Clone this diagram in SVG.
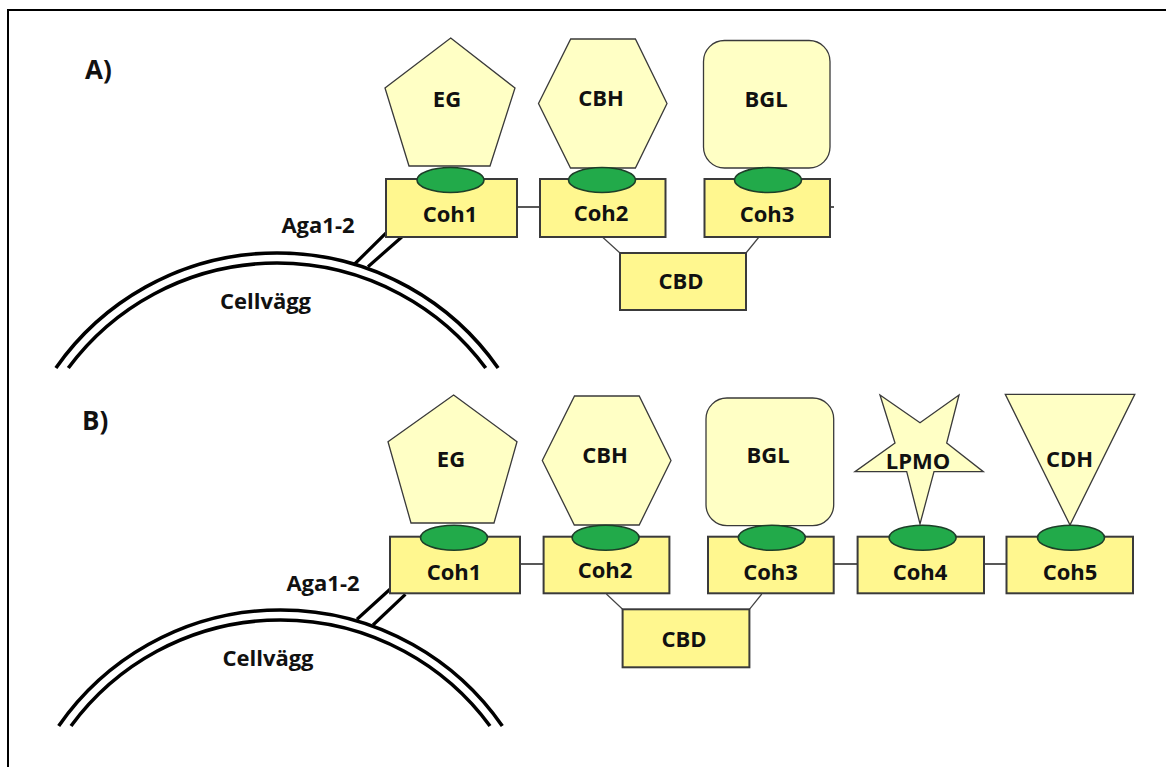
<svg xmlns="http://www.w3.org/2000/svg" width="1166" height="767" viewBox="0 0 1166 767">
  <style>
    .frame { stroke: #000; stroke-width: 2; fill: none; }
    .enz { fill: #FFFFC5; stroke: #3a3a3a; stroke-width: 1.3; stroke-linejoin: miter; }
    .coh { fill: #FFF78F; stroke: #3a3a3a; stroke-width: 2; }
    .dock { fill: #22AA4A; stroke: #1d3f28; stroke-width: 1.6; }
    .link { stroke: #222; stroke-width: 1.4; fill: none; }
    .cbdlink { stroke: #444; stroke-width: 1.2; fill: none; }
    .wall { stroke: #000; stroke-width: 3.6; fill: none; }
    .anchor { stroke: #000; stroke-width: 3.2; fill: none; }
    text { font-family: "Open Sans", "Liberation Sans", sans-serif; font-weight: 700; fill: #111; }
    .lbl { font-size: 22px; text-anchor: middle; }
    .head { font-size: 26px; }
  </style>

  <!-- outer frame: top and left edges only -->
  <path class="frame" d="M8 767 V10 H1166"/>

  <!-- ===================== Panel A ===================== -->
  <g id="panelA">
    <text class="head" x="85" y="79">A)</text>

    <g id="A-connectors">
      <path class="anchor" d="M386.4 232.7 L353.6 265 M401.8 237 L368 266.7"/>
      <path class="link" d="M517 207 H540 M830 207 H834"/>
      <path class="cbdlink" d="M602.4 237 L620 253 M759 237 L746 253"/>
    </g>

    <g id="A-cellwall">
      <path class="wall" d="M55.9 368 A270 270 0 0 1 498.1 368"/>
      <path class="wall" d="M68.3 368 A260 260 0 0 1 485.7 368"/>
      <text class="lbl" x="265.5" y="309">Cellvägg</text>
    </g>

    <g id="A-aga">
      <text class="lbl" x="318" y="233">Aga1-2</text>
    </g>

    <g id="A-EG">
      <polygon class="enz" points="450.7,38 515,88 490,166 409,166 385,88"/>
      <text class="lbl" x="447" y="107">EG</text>
    </g>
    <g id="A-Coh1">
      <rect class="coh" x="386" y="179" width="131" height="58"/>
      <ellipse class="dock" cx="450.5" cy="180" rx="33.5" ry="12.5"/>
      <text class="lbl" x="450" y="222">Coh1</text>
    </g>

    <g id="A-CBH">
      <polygon class="enz" points="570.7,39 635.4,39 667,103.5 635.4,168 570.5,168 538.5,103.5"/>
      <text class="lbl" x="601" y="106">CBH</text>
    </g>
    <g id="A-Coh2">
      <rect class="coh" x="540" y="179" width="125.5" height="58"/>
      <ellipse class="dock" cx="602" cy="180" rx="33.5" ry="12.5"/>
      <text class="lbl" x="601" y="221">Coh2</text>
    </g>

    <g id="A-BGL">
      <rect class="enz" x="703.5" y="40.5" width="126.5" height="127.5" rx="21" ry="21"/>
      <text class="lbl" x="766" y="107">BGL</text>
    </g>
    <g id="A-Coh3">
      <rect class="coh" x="704.5" y="179" width="125.5" height="58"/>
      <ellipse class="dock" cx="768" cy="180" rx="33.5" ry="12.5"/>
      <text class="lbl" x="767" y="222">Coh3</text>
    </g>

    <g id="A-CBD">
      <rect class="coh" x="620" y="253" width="126" height="57"/>
      <text class="lbl" x="681" y="289">CBD</text>
    </g>
  </g>

  <!-- ===================== Panel B ===================== -->
  <g id="panelB">
    <text class="head" x="82" y="430">B)</text>

    <g id="B-connectors">
      <path class="anchor" d="M390 589.3 L357 619.3 M405.4 594.3 L373 625"/>
      <path class="link" d="M520 564 H543.6 M833.7 564 H857.6 M984 564 H1006.5"/>
      <path class="cbdlink" d="M606.4 594 L622.6 609.3 M761.8 594 L749.4 609.3"/>
    </g>

    <g id="B-cellwall">
      <path class="wall" d="M58.7 726 A270 270 0 0 1 502.3 726"/>
      <path class="wall" d="M71 726 A260 260 0 0 1 490 726"/>
      <text class="lbl" x="268" y="666">Cellvägg</text>
    </g>

    <g id="B-aga">
      <text class="lbl" x="323" y="591">Aga1-2</text>
    </g>

    <g id="B-EG">
      <polygon class="enz" points="453.6,395 517,441.7 494,523 411,523 388,441.7"/>
      <text class="lbl" x="451" y="467">EG</text>
    </g>
    <g id="B-Coh1">
      <rect class="coh" x="390" y="536.7" width="130" height="56.6"/>
      <ellipse class="dock" cx="454" cy="537.7" rx="33.5" ry="12.5"/>
      <text class="lbl" x="454" y="580">Coh1</text>
    </g>

    <g id="B-CBH">
      <polygon class="enz" points="574.5,396 639.2,396 671,460.5 639.2,525 574.3,525 542.3,460.5"/>
      <text class="lbl" x="605" y="463">CBH</text>
    </g>
    <g id="B-Coh2">
      <rect class="coh" x="543.6" y="536.7" width="125.8" height="56.6"/>
      <ellipse class="dock" cx="605.6" cy="537.7" rx="33.5" ry="12.5"/>
      <text class="lbl" x="605" y="578">Coh2</text>
    </g>

    <g id="B-BGL">
      <rect class="enz" x="706" y="398" width="127.7" height="127.7" rx="21" ry="21"/>
      <text class="lbl" x="768" y="463">BGL</text>
    </g>
    <g id="B-Coh3">
      <rect class="coh" x="708" y="536.7" width="125.7" height="56.6"/>
      <ellipse class="dock" cx="771.8" cy="537.7" rx="33.5" ry="12.5"/>
      <text class="lbl" x="770.5" y="580">Coh3</text>
    </g>

    <g id="B-LPMO">
      <polygon class="enz" points="880,395 920,422.7 959,395 946.7,443 983.3,471.7 934,471.7 920,524 906.7,471.7 855,471.7 895,443"/>
      <text class="lbl" x="918" y="469">LPMO</text>
    </g>
    <g id="B-Coh4">
      <rect class="coh" x="857.6" y="536.7" width="126.4" height="56.6"/>
      <ellipse class="dock" cx="922.6" cy="537.7" rx="33.5" ry="12.5"/>
      <text class="lbl" x="920" y="580">Coh4</text>
    </g>

    <g id="B-CDH">
      <polygon class="enz" points="1005.3,394.3 1134.8,394.3 1070,525"/>
      <text class="lbl" x="1069.5" y="467">CDH</text>
    </g>
    <g id="B-Coh5">
      <rect class="coh" x="1006.5" y="536.7" width="126.5" height="56.6"/>
      <ellipse class="dock" cx="1071" cy="537.7" rx="33.5" ry="12.5"/>
      <text class="lbl" x="1070" y="580">Coh5</text>
    </g>

    <g id="B-CBD">
      <rect class="coh" x="622.6" y="609.3" width="126.8" height="58"/>
      <text class="lbl" x="684" y="646.7">CBD</text>
    </g>
  </g>
</svg>
